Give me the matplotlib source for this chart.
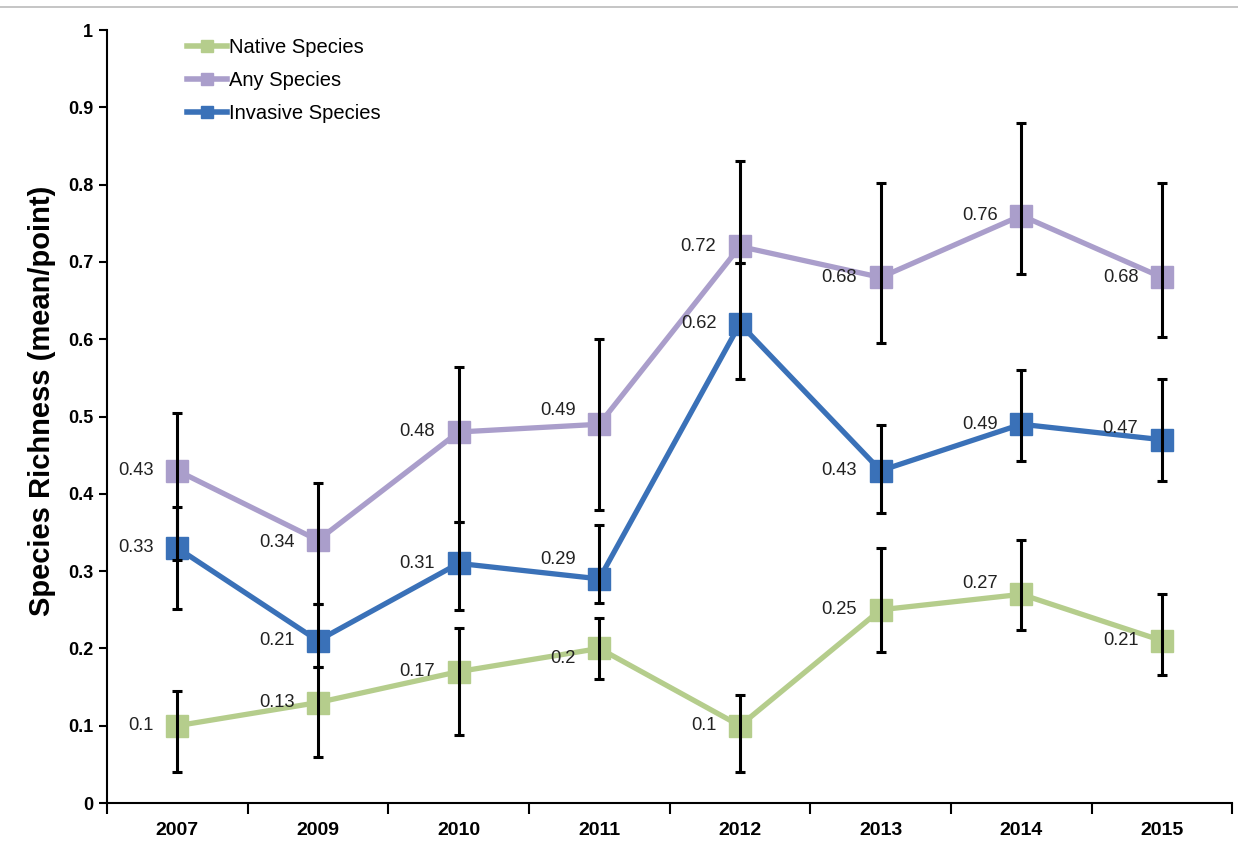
import matplotlib
matplotlib.use("Agg")
import matplotlib.pyplot as plt
from matplotlib.lines import Line2D
import numpy as np

plt.rcParams['font.family'] = ['Liberation Sans', 'DejaVu Sans']

years = ["2007", "2009", "2010", "2011", "2012", "2013", "2014", "2015"]

native = [0.10, 0.13, 0.17, 0.20, 0.10, 0.25, 0.27, 0.21]
native_low = [0.04, 0.06, 0.088, 0.16, 0.04, 0.195, 0.224, 0.166]
native_high = [0.145, 0.176, 0.226, 0.24, 0.14, 0.33, 0.34, 0.27]

any_sp = [0.43, 0.34, 0.48, 0.49, 0.72, 0.68, 0.76, 0.68]
any_low = [0.314, 0.258, 0.363, 0.379, 0.698, 0.595, 0.685, 0.603]
any_high = [0.505, 0.414, 0.564, 0.600, 0.830, 0.802, 0.880, 0.802]

invasive = [0.33, 0.21, 0.31, 0.29, 0.62, 0.43, 0.49, 0.47]
inv_low = [0.251, 0.176, 0.250, 0.259, 0.549, 0.375, 0.442, 0.416]
inv_high = [0.383, 0.258, 0.363, 0.360, 0.698, 0.489, 0.560, 0.549]

series_names = ["Native Species", "Any Species", "Invasive Species"]
colors = ["#B5CD8C", "#AA9ECB", "#3A71B8"]

# label offsets in points (dy) - styling only
label_dy = {
    "Native Species": [0, 0, 0, -7, 0, 0, 8, 0],
    "Any Species": [0, -2, 0, 10, 0, 0, 0, 0],
    "Invasive Species": [0, 0, 0, 14, 0, 0, 0, 8],
}

fig = plt.figure(figsize=(12.38, 8.46), dpi=100)
ax = fig.add_axes([0.0864, 0.0508, 0.909, 0.9137])

x = np.arange(len(years))
data = [(native, native_low, native_high),
        (any_sp, any_low, any_high),
        (invasive, inv_low, inv_high)]

for (vals, lo, hi), name, col in zip(data, series_names, colors):
    vals = np.array(vals)
    ax.plot(x, vals, color=col, lw=3.8, marker='s', ms=15.5, mec=col, mfc=col,
            zorder=3, solid_joinstyle='miter')
    yerr = np.vstack([vals - np.array(lo), np.array(hi) - vals])
    ax.errorbar(x, vals, yerr=yerr, fmt='none', ecolor='black', elinewidth=2.2,
                capsize=3.8, capthick=2.2, zorder=4)
    for i, v in enumerate(vals):
        ax.annotate(f"{v:g}", (x[i], v), xytext=(-17, label_dy[name][i]),
                    textcoords='offset points', ha='right', va='center',
                    fontsize=13.2, color='#222222', zorder=5)

ax.set_xlim(-0.5, len(years) - 0.5)
ax.set_ylim(0, 1)
ax.set_yticks(np.arange(0, 1.01, 0.1))
ax.set_yticklabels([f"{t:g}" for t in np.arange(0, 1.01, 0.1)],
                   fontsize=13, fontweight='bold')
ax.set_xticks(x)
ax.set_xticklabels(years, fontsize=14, fontweight='bold')
ax.set_xticks(np.arange(-0.5, len(years), 1.0), minor=True)
ax.tick_params(axis='x', which='major', length=0, pad=14)
ax.tick_params(axis='x', which='minor', length=8, width=1.5, direction='out')
ax.tick_params(axis='y', length=6, width=1.5, direction='out', pad=4)

for s in ['top', 'right']:
    ax.spines[s].set_visible(False)
for s in ['left', 'bottom']:
    ax.spines[s].set_linewidth(1.5)

ax.set_ylabel("Species Richness (mean/point)", fontsize=21, fontweight='bold')
ax.yaxis.set_label_coords(-0.045, 0.52)

handles = [Line2D([0], [0], color=c, lw=4, marker='s', ms=8, mec=c, mfc=c)
           for c in colors]
ax.legend(handles, series_names, loc='upper left', bbox_to_anchor=(0.055, 1.013),
          frameon=False, fontsize=14.5, handlelength=2.0, handletextpad=0.1,
          labelspacing=0.7)

fig.add_artist(Line2D([0, 1], [1 - 7 / 846, 1 - 7 / 846], color='#BBBBBB',
                      lw=1.2, transform=fig.transFigure))

fig.savefig("out.png", dpi=100)
